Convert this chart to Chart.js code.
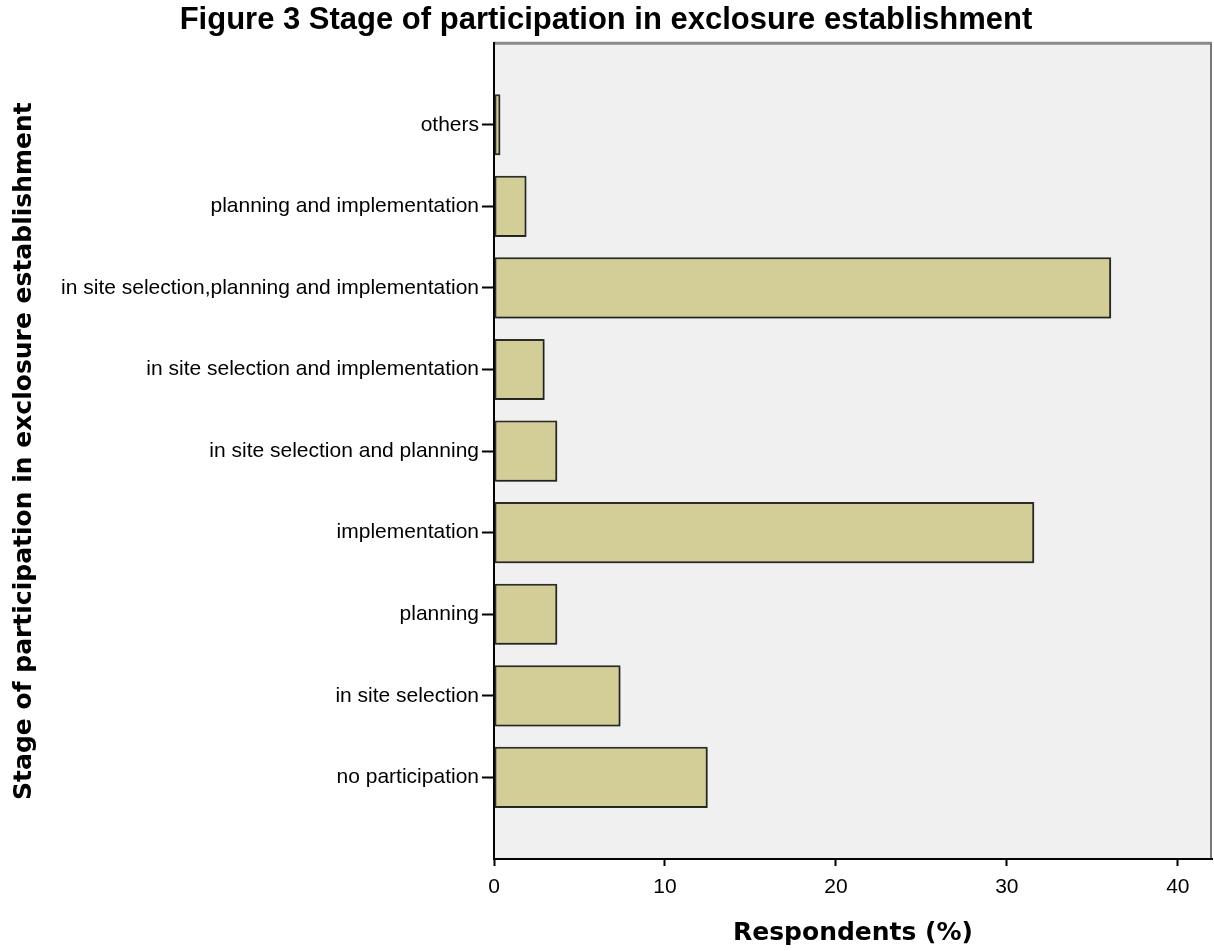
<!DOCTYPE html>
<html>
<head>
<meta charset="utf-8">
<title>Stage of participation in exclosure establishment</title>
<script src="https://cdn.jsdelivr.net/npm/chart.js@4.4.0/dist/chart.umd.min.js"></script>
<style>
  body { margin: 0; background: #ffffff; }
  #wrap { width: 1214px; height: 951px; }
</style>
</head>
<body>
<div id="wrap"><canvas id="stageChart" width="1214" height="951"></canvas></div>
<script>
// categories, top to bottom (blank slots keep the empty band above and below)
var stages = [
  "others",
  "planning and implementation",
  "in site selection,planning and implementation",
  "in site selection and implementation",
  "in site selection and planning",
  "implementation",
  "planning",
  "in site selection",
  "no participation"
];
var respondents = [0.37, 1.9, 36.1, 2.96, 3.7, 31.6, 3.7, 7.4, 12.5];
var xTicks = [0, 10, 20, 30, 40];

var labels = [""].concat(stages, [""]);
var values = [null].concat(respondents, [null]);

// grey plot panel with the light frame on top and right
var plotPanel = {
  id: 'plotPanel',
  beforeDraw: function(chart) {
    var c = chart.ctx, a = chart.chartArea;
    c.save();
    c.fillStyle = '#f0f0f0';
    c.fillRect(a.left, a.top, a.right - a.left, a.bottom - a.top);
    c.strokeStyle = '#8a8a8a';
    c.lineWidth = 3;
    c.beginPath();
    c.moveTo(a.left, a.top);
    c.lineTo(a.right, a.top);
    c.stroke();
    c.strokeStyle = '#777777';
    c.lineWidth = 2;
    c.beginPath();
    c.moveTo(a.right - 1, a.top);
    c.lineTo(a.right - 1, a.bottom);
    c.stroke();
    c.restore();
  },
  beforeDatasetsDraw: function(chart) {
    var c = chart.ctx;
    c.save();
    c.shadowColor = 'rgba(0,0,0,0.35)';
    c.shadowOffsetX = 1;
    c.shadowOffsetY = 1;
    c.shadowBlur = 2;
  },
  afterDatasetsDraw: function(chart) {
    chart.ctx.restore();
  }
};

function tickShade(context) {
  return context.tick && context.tick.label === '' ? 'rgba(0,0,0,0)' : '#000000';
}

var ctx = document.getElementById("stageChart");
var bars = new Chart(ctx, {
  type: 'bar',
  data: {
    labels: labels,
    datasets: [
      {
        label: 'Respondents (%)',
        data: values,
        backgroundColor: '#d3ce97',
        borderColor: '#2e2e26',
        borderWidth: 2,
        borderSkipped: false,
        barPercentage: 0.75,
        categoryPercentage: 1
      }
    ]
  },
  plugins: [plotPanel],
  options: {
    indexAxis: 'y',
    responsive: false,
    animation: false,
    layout: { padding: { left: 0, right: 2, top: 0, bottom: 0 } },
    plugins: {
      legend: { display: false },
      tooltip: { enabled: false },
      title: {
        display: true,
        text: 'Figure 3 Stage of participation in exclosure establishment',
        color: '#000000',
        font: { family: "'Liberation Sans', Arial, sans-serif", size: 31, weight: 'bold' },
        padding: { top: 2, bottom: 4 }
      }
    },
    scales: {
      x: {
        type: 'linear',
        min: 0,
        max: 42,
        afterBuildTicks: function(scale) {
          scale.ticks = xTicks.map(function(v) { return { value: v }; });
        },
        afterFit: function(scale) { scale.height = 92; },
        grid: {
          drawOnChartArea: false,
          drawTicks: true,
          tickLength: 7,
          tickWidth: 2,
          tickColor: '#000000'
        },
        border: { display: true, color: '#000000', width: 2 },
        ticks: {
          color: '#000000',
          padding: 9,
          font: { family: "'Liberation Sans', Arial, sans-serif", size: 21 }
        },
        title: {
          display: true,
          text: 'Respondents (%)',
          color: '#000000',
          font: { family: "'DejaVu Sans', Verdana, sans-serif", size: 25, weight: 'bold' },
          padding: { top: 4, bottom: 3 }
        }
      },
      y: {
        type: 'category',
        offset: false,
        afterFit: function(scale) { scale.width = 494; },
        grid: {
          offset: false,
          drawOnChartArea: false,
          drawTicks: true,
          tickLength: 12,
          tickWidth: 2,
          tickColor: tickShade
        },
        border: { display: true, color: '#000000', width: 2 },
        ticks: {
          color: '#000000',
          padding: 3,
          autoSkip: false,
          font: { family: "'Liberation Sans', Arial, sans-serif", size: 21 }
        },
        title: {
          display: true,
          text: 'Stage of participation in exclosure establishment',
          color: '#000000',
          font: { family: "'DejaVu Sans', Verdana, sans-serif", size: 25, weight: 'bold' },
          padding: { top: 9, bottom: 4 }
        }
      }
    }
  }
});
</script>
</body>
</html>
